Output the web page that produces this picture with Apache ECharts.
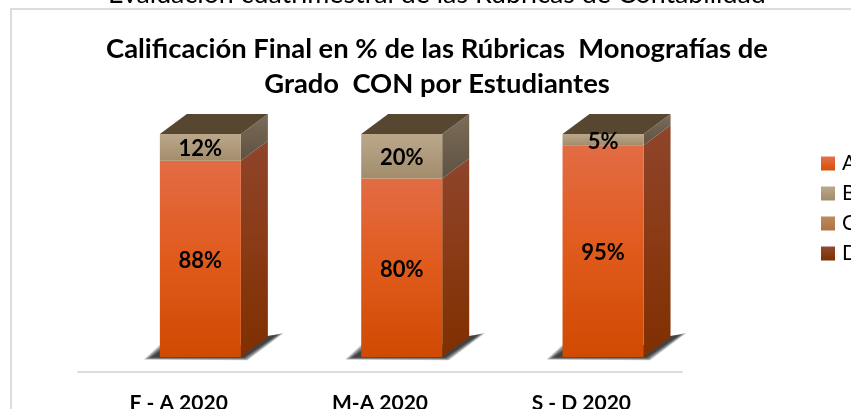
<!DOCTYPE html>
<html>
<head>
<meta charset="utf-8">
<title>Rúbricas</title>
<script src="https://cdn.jsdelivr.net/npm/echarts@6/dist/echarts.min.js"></script>
<style>
  html, body { margin: 0; padding: 0; background: #fff; overflow: hidden; }
  #chart { width: 851px; height: 409px; }
</style>
</head>
<body>
<div id="chart"></div>
<script>
const pageHeading = 'Evaluación cuatrimestral de las Rúbricas de Contabilidad'
const chartTitle = 'Calificación Final en % de las Rúbricas  Monografías de\nGrado  CON por Estudiantes'
const categories = ['F - A 2020', 'M-A 2020', 'S - D 2020']
const seriesNames = ['A', 'B', 'C', 'D']
const valuesA = [88, 80, 95]
const valuesB = [12, 20, 5]
const valuesC = [0, 0, 0]
const valuesD = [0, 0, 0]

const fontName = 'Lato, "Open Sans", sans-serif'
// oblique 3D look: front face sits to the right of the band centre, box goes back up-right
const barWidth = 81
const barShift = 21.7
const depthX = 27
const depthY = 20
const lidColor = '#574630'
// stacked see-through polygons stand in for a soft floor shadow
const shadowSpreads = [7, 5.5, 4, 2.5, 1, 0]

function grad(colors) {
  return new echarts.graphic.LinearGradient(0, 0, 0, 1, colors.map((color, i) => ({
    offset: i / (colors.length - 1),
    color: color
  })))
}

const palette = [
  { front: ['#e36c45', '#e05a1c', '#d04a02'], side: ['#8e452b', '#8a3a14', '#7f2f00'], legend: ['#e4704a', '#d65005'] },
  { front: ['#bba88b', '#a28c6c'], side: ['#7c6c5a', '#5f5240'], legend: ['#bba88b', '#a28c6c'] },
  { front: ['#bd8a5c', '#ae7440'], side: ['#7c5a3c', '#6a4624'], legend: ['#bd8a5c', '#ae7440'] },
  { front: ['#8f4a30', '#7f2f00'], side: ['#6a3018', '#5a2000'], legend: ['#8f4a30', '#7f2f00'] }
]

const stacks = [valuesA, valuesB, valuesC, valuesD]

function rowsFor(idx) {
  return categories.map((c, i) => {
    let base = 0
    for (let s = 0; s < idx; s++) base += stacks[s][i]
    return [i, base, base + stacks[idx][i]]
  })
}

function renderSegment(idx) {
  return function (params, api) {
    const start = api.value(1)
    const end = api.value(2)
    if (end <= start) return { type: 'group', children: [] }
    const p0 = api.coord([api.value(0), start])
    const p1 = api.coord([api.value(0), end])
    const x0 = p0[0] + barShift - barWidth / 2
    const x1 = x0 + barWidth
    const y0 = p0[1]
    const y1 = p1[1]
    const c = palette[idx]
    const kids = []
    // floor shadow under the box, only for the bottom segment
    if (idx === 0) {
      shadowSpreads.forEach(s => {
        kids.push({
          type: 'polygon',
          z2: 0,
          shape: {
            points: [
              [x0 - 9 - s, y0 + 0.5 + s * 0.3],
              [x0 + 2, y0 - 7 - s],
              [x1, y0 - 12],
              [x1 + depthX, y0 - 21],
              [x1 + 36 + s, y0 - 22 - s * 0.3],
              [x1 + 3 + s * 0.5, y0 + 0.5 + s * 0.4]
            ]
          },
          style: { fill: 'rgba(0,0,0,0.2)' }
        })
      })
    }
    kids.push({
      type: 'polygon',
      z2: 1,
      shape: { points: [[x1, y1], [x1 + depthX, y1 - depthY], [x1 + depthX, y0 - depthY], [x1, y0]] },
      style: { fill: grad(c.side) }
    })
    kids.push({
      type: 'rect',
      z2: 2,
      shape: { x: x0, y: y1, width: barWidth, height: y0 - y1 },
      style: { fill: grad(c.front) }
    })
    // only the uppermost segment shows its lid
    if (end >= 100) {
      kids.push({
        type: 'polygon',
        z2: 3,
        shape: { points: [[x0, y1], [x0 + depthX, y1 - depthY], [x1 + depthX, y1 - depthY], [x1, y1]] },
        style: { fill: lidColor }
      })
    }
    kids.push({
      type: 'text',
      z2: 4,
      style: {
        x: (x0 + x1) / 2,
        y: (y0 + y1) / 2 + 2,
        text: (end - start) + '%',
        fill: '#000',
        font: 'bold 22px ' + fontName,
        align: 'center',
        verticalAlign: 'middle'
      }
    })
    return { type: 'group', children: kids }
  }
}

const chart = echarts.init(document.getElementById('chart'))
chart.setOption({
  animation: false,
  backgroundColor: '#fff',
  title: [
    {
      text: pageHeading,
      left: 432,
      top: -24,
      textAlign: 'center',
      textStyle: { fontFamily: fontName, fontSize: 26.8, fontWeight: 'normal', color: '#000' }
    },
    {
      text: chartTitle,
      left: 432,
      top: 27,
      textAlign: 'center',
      textStyle: { fontFamily: fontName, fontSize: 27.4, fontWeight: 'bold', color: '#000', lineHeight: 35 }
    }
  ],
  graphic: [
    {
      type: 'rect',
      silent: true,
      z: -1,
      shape: { x: 11, y: 9, width: 900, height: 500 },
      style: { fill: 'none', stroke: '#dcdcdc', lineWidth: 2 }
    }
  ],
  legend: {
    orient: 'vertical',
    icon: 'rect',
    left: 816,
    top: 148,
    itemWidth: 14,
    itemHeight: 14,
    itemGap: 9,
    data: seriesNames,
    textStyle: { fontFamily: fontName, fontSize: 21, color: '#000', lineHeight: 14, padding: [0, 0, 0, 2] }
  },
  grid: { left: 78, right: 169, top: 134, bottom: 52, outerBoundsMode: 'none' },
  xAxis: {
    type: 'category',
    data: categories,
    offset: 15,
    axisTick: { show: false },
    axisLine: { onZero: false, lineStyle: { color: '#dcdcdc', width: 2 } },
    axisLabel: { fontFamily: fontName, fontSize: 21, fontWeight: 'bold', color: '#000', margin: 21 }
  },
  yAxis: { type: 'value', min: 0, max: 100, show: false },
  series: seriesNames.map((name, idx) => ({
    name: name,
    type: 'custom',
    coordinateSystem: 'cartesian2d',
    renderItem: renderSegment(idx),
    encode: { x: 0, y: [1, 2] },
    itemStyle: { color: grad(palette[idx].legend) },
    z: 10 + idx,
    data: rowsFor(idx)
  }))
})
</script>
</body>
</html>
